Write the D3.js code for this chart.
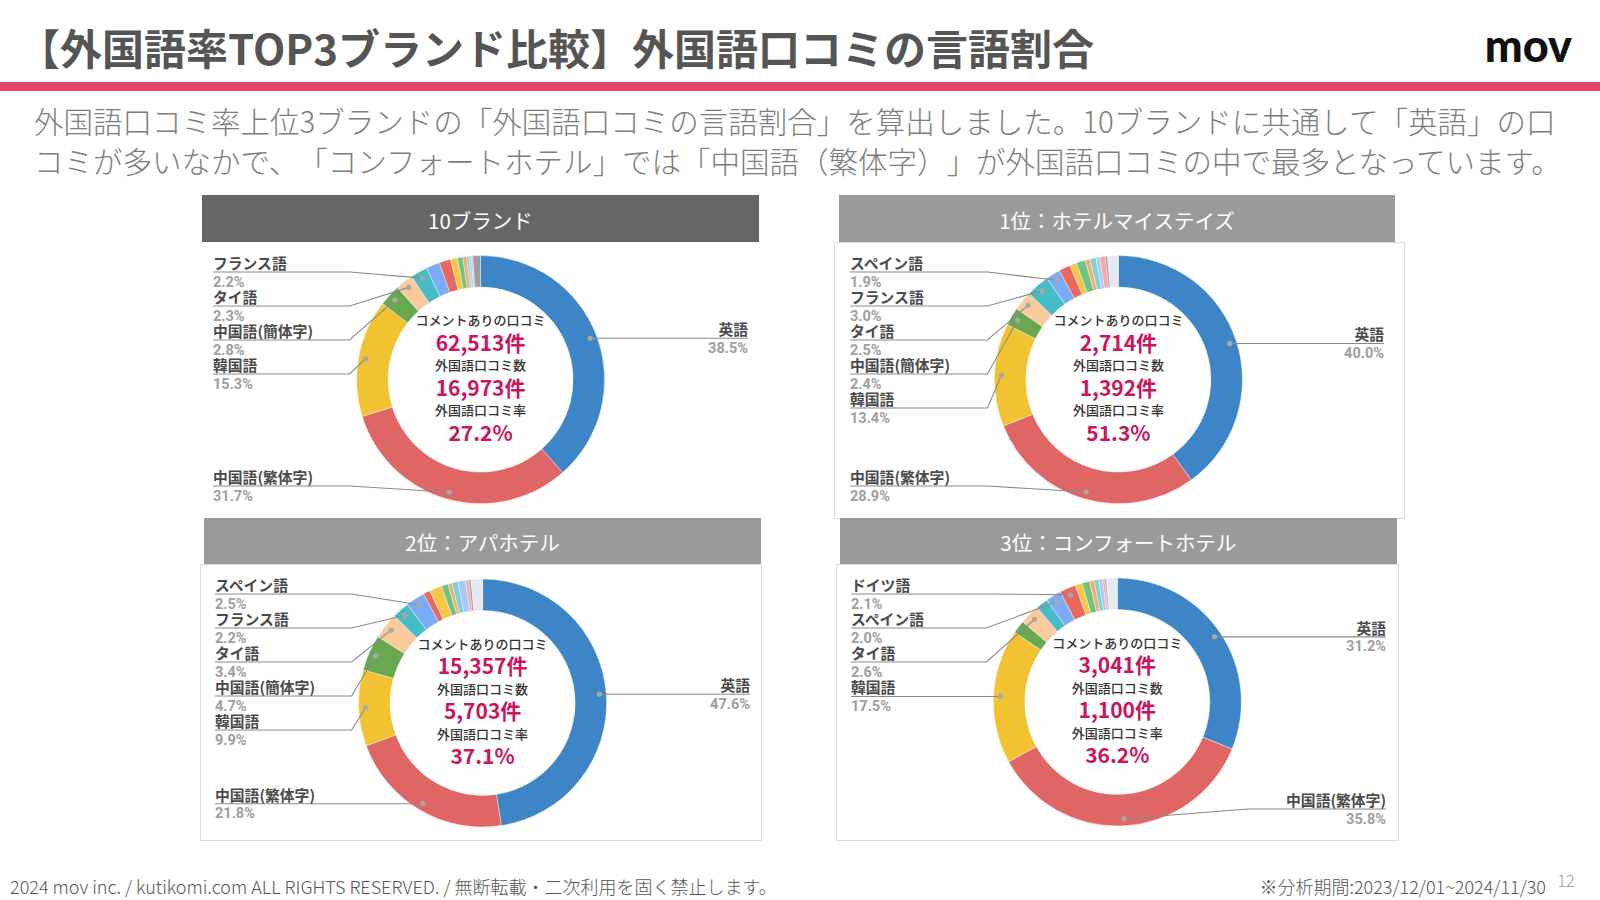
<!DOCTYPE html>
<html><head><meta charset="utf-8">
<script src="https://cdn.jsdelivr.net/npm/d3@7"></script>
<style>
html,body{margin:0;padding:0;background:#fff;}
svg{display:block;}
text{text-spacing-trim:space-all;}
</style></head>
<body>
<script>
// ---------- DATA ----------
const languages = ["英語","中国語(繁体字)","韓国語","中国語(簡体字)","タイ語","フランス語","スペイン語","ドイツ語",
  "ベトナム語","インドネシア語","ポルトガル語","イタリア語","ロシア語","マレー語","アラビア語","その他"];
const languageColors = ["#3d85c6","#e06666","#f1c232","#6aa84f","#f9cb9c","#46bdc6","#7baaf7","#e8675f",
  "#f6c744","#72c288","#f2ad6e","#7ed1d7","#a9c8f7","#f4a7a3","#9e9e9e","#e6eaf0"];

const panelTitles = ["10ブランド","1位：ホテルマイステイズ","2位：アパホテル","3位：コンフォートホテル"];
const values10brands = [38.5, 31.7, 15.3, 2.8, 2.3, 2.2, 1.8, 1.5, 0.9, 0.7, 0.5, 0.3, 0.3, 0.2, 1.0, 0.0];
const valuesMystays  = [40.0, 28.9, 13.4, 2.4, 2.5, 3.0, 1.9, 1.5, 0.9, 1.2, 0.6, 0.8, 0.5, 0.7, 0.3, 1.4];
const valuesApa      = [47.6, 21.8, 9.9, 4.7, 3.4, 2.2, 2.5, 0.9, 1.6, 0.9, 0.5, 0.8, 1.0, 0.4, 0.3, 1.5];
const valuesComfort  = [31.2, 35.8, 17.5, 1.7, 2.6, 1.6, 2.0, 2.1, 0.9, 1.0, 0.6, 0.6, 0.5, 0.3, 0.2, 1.4];
const commentCounts = [62513, 2714, 15357, 3041];
const foreignCounts = [16973, 1392, 5703, 1100];
const foreignRates  = [27.2, 51.3, 37.1, 36.2];
const labelThreshold = 1.9;

const titleText = "【外国語率TOP3ブランド比較】外国語口コミの言語割合";
const subtitleLines = [
  "外国語口コミ率上位3ブランドの「外国語口コミの言語割合」を算出しました。10ブランドに共通して「英語」の口",
  "コミが多いなかで、「コンフォートホテル」では「中国語（繁体字）」が外国語口コミの中で最多となっています。"
];
const footerLeft = "2024 mov inc. / kutikomi.com ALL RIGHTS RESERVED. / 無断転載・二次利用を固く禁止します。";
const footerRight = "※分析期間:2023/12/01~2024/11/30";
const pageNumber = "12";

// ---------- LAYOUT ----------
const allValues = [values10brands, valuesMystays, valuesApa, valuesComfort];
const layout = [
  {hx:202, hy:195, hw:557, hh:47, hc:"#666666", border:null, cx:480.6, cy:379.6},
  {hx:839, hy:195, hw:556, hh:47, hc:"#9a9a9a", border:[834,242,570,276], cx:1118.4, cy:379.6},
  {hx:204, hy:518, hw:557, hh:46, hc:"#9a9a9a", border:[200,564,561,276], cx:482.6, cy:703},
  {hx:840, hy:518, hw:557, hh:46, hc:"#9a9a9a", border:[836,564,562,276], cx:1117.3, cy:702}
];
const JP = "'Noto Sans CJK JP','Noto Sans',sans-serif";
const rIn = 92.5, rOut = 124, rDot = 117;

const svg = d3.select("body").append("svg").attr("width",1600).attr("height",900);

// header
svg.append("text").attr("x",18).attr("y",46).attr("dominant-baseline","central")
  .style("font-family",JP).style("font-weight",700).style("font-size","42px").attr("fill","#555")
  .text(titleText);
svg.append("text").attr("x",1572).attr("y",45).attr("text-anchor","end").attr("dominant-baseline","central")
  .style("font-family","Lato,'Noto Sans',sans-serif").style("font-weight",900).style("font-size","45px")
  .attr("fill","#111").text("mov");
svg.append("rect").attr("x",0).attr("y",82).attr("width",1600).attr("height",9).attr("fill","#e4456c");

svg.selectAll("text.sub").data(subtitleLines).join("text").attr("class","sub")
  .attr("x",34).attr("y",(d,i)=>120+i*40).attr("dominant-baseline","central")
  .style("font-family",JP).style("font-weight",300).style("font-size","29.5px").attr("fill","#7d7d7d")
  .text(d=>d);

// footer
svg.append("text").attr("x",10).attr("y",886).attr("dominant-baseline","central")
  .style("font-family",JP).style("font-weight",300).style("font-size","18px").attr("fill","#555").text(footerLeft);
svg.append("text").attr("x",1546).attr("y",886).attr("text-anchor","end").attr("dominant-baseline","central")
  .style("font-family",JP).style("font-weight",300).style("font-size","18px").attr("fill","#555").text(footerRight);
svg.append("text").attr("x",1566).attr("y",880).attr("text-anchor","middle").attr("dominant-baseline","central")
  .style("font-family",JP).style("font-weight",300).style("font-size","16px").attr("fill","#999").text(pageNumber);

const pie = d3.pie().sort(null).value(d=>d.v);
const arc = d3.arc().innerRadius(rIn).outerRadius(rOut);
const dotArc = d3.arc().innerRadius(rDot).outerRadius(rDot);
const fmt = d3.format(",");

function clusterLayout(items, top, bottom, gap){
  const clusters = [];
  const place = (its, s) => Math.min(Math.max(top, s), bottom - (its.length-1)*gap);
  items.forEach(it=>{
    clusters.push({items:[it], start:place([it], it.ideal)});
    while(clusters.length>1){
      const last = clusters[clusters.length-1], prev = clusters[clusters.length-2];
      if(last.start < prev.start + prev.items.length*gap){
        const merged = prev.items.concat(last.items);
        const s = d3.mean(merged, (m,i)=>m.ideal - i*gap);
        clusters.pop(); clusters.pop();
        clusters.push({items:merged, start:place(merged, s)});
      } else break;
    }
  });
  clusters.forEach(c=>c.items.forEach((m,i)=>m.lineY = c.start + i*gap));
}

layout.forEach((L, p)=>{
  const g = svg.append("g");
  if(L.border){
    g.append("rect").attr("x",L.border[0]+0.5).attr("y",L.border[1]+0.5)
      .attr("width",L.border[2]).attr("height",L.border[3])
      .attr("fill","#fff").attr("stroke","#dcdcdc").attr("stroke-width",1);
  }
  g.append("rect").attr("x",L.hx).attr("y",L.hy).attr("width",L.hw).attr("height",L.hh).attr("fill",L.hc);
  g.append("text").attr("x",L.hx+L.hw/2).attr("y",L.hy+L.hh/2+1).attr("text-anchor","middle")
    .attr("dominant-baseline","central").style("font-family",JP).style("font-weight",400)
    .style("font-size","20.5px").attr("fill","#fff").text(panelTitles[p]);

  const data = languages.map((name,i)=>({name, v:allValues[p][i], color:languageColors[i]}));
  const arcs = pie(data);
  const dg = g.append("g").attr("transform",`translate(${L.cx},${L.cy})`);
  dg.selectAll("path").data(arcs.filter(a=>a.data.v>0)).join("path")
    .attr("d",arc).attr("fill",d=>d.data.color).attr("stroke","#fff").attr("stroke-width",0.4);

  // labels
  const items = arcs.filter(a=>a.data.v>=labelThreshold).map(a=>{
    const c = dotArc.centroid(a);
    const mid = (a.startAngle+a.endAngle)/2;
    return {a, dot:[L.cx+c[0], L.cy+c[1]], side: mid>Math.PI ? "left":"right", ideal:L.cy+c[1]};
  });
  const left = items.filter(d=>d.side==="left").sort((x,y)=>x.ideal-y.ideal);
  const right = items.filter(d=>d.side==="right").sort((x,y)=>x.ideal-y.ideal);
  const topLine = L.hy + L.hh + 30, bottomLine = L.hy + 291, gap = 34;
  clusterLayout(left, topLine, bottomLine, gap);
  clusterLayout(right, topLine, bottomLine, gap);
  const labelX = L.hx + 11, rightX = L.hx + L.hw - 11;
  const line = d3.line();
  items.forEach(it=>{
    let pts;
    if(it.side==="left"){
      const bx = L.cx - 131;
      pts = [[labelX,it.lineY],[bx,it.lineY],it.dot];
    } else {
      const bx = L.cx + 131;
      pts = it.dot[0] >= bx ? [[rightX,it.lineY],it.dot] : [[rightX,it.lineY],[bx,it.lineY],it.dot];
    }
    g.append("path").attr("d",line(pts)).attr("fill","none").attr("stroke","#8a8a8a").attr("stroke-width",1.1);
    g.append("circle").attr("cx",it.dot[0]).attr("cy",it.dot[1]).attr("r",2.6).attr("fill","#a8a8a8");
    const tx = it.side==="left" ? labelX : rightX;
    const anchor = it.side==="left" ? "start" : "end";
    g.append("text").attr("x",tx).attr("y",it.lineY-9.5).attr("text-anchor",anchor).attr("dominant-baseline","central")
      .style("font-family",JP).style("font-weight",700).style("font-size","14.8px").attr("fill","#4a4a4a")
      .text(it.a.data.name);
    g.append("text").attr("x",tx).attr("y",it.lineY+10).attr("text-anchor",anchor).attr("dominant-baseline","central")
      .style("font-family","Roboto,'Noto Sans',sans-serif").style("font-weight",700).style("font-size","14.5px").attr("fill","#9e9e9e")
      .text(it.a.data.v.toFixed(1)+"%");
  });

  // center text
  const centerLines = [
    {t:"コメントありの口コミ", big:false, dy:-60},
    {t:fmt(commentCounts[p])+"件", big:true, dy:-38},
    {t:"外国語口コミ数", big:false, dy:-15},
    {t:fmt(foreignCounts[p])+"件", big:true, dy:7},
    {t:"外国語口コミ率", big:false, dy:30},
    {t:foreignRates[p].toFixed(1)+"%", big:true, dy:52}
  ];
  centerLines.forEach(c=>{
    g.append("text").attr("x",L.cx).attr("y",L.cy+c.dy).attr("text-anchor","middle").attr("dominant-baseline","central")
      .style("font-family",JP).style("font-weight",c.big?700:500).style("font-size",c.big?"21px":"13px")
      .attr("fill",c.big?"#c8175d":"#333").text(c.t);
  });
});
</script>
</body></html>
